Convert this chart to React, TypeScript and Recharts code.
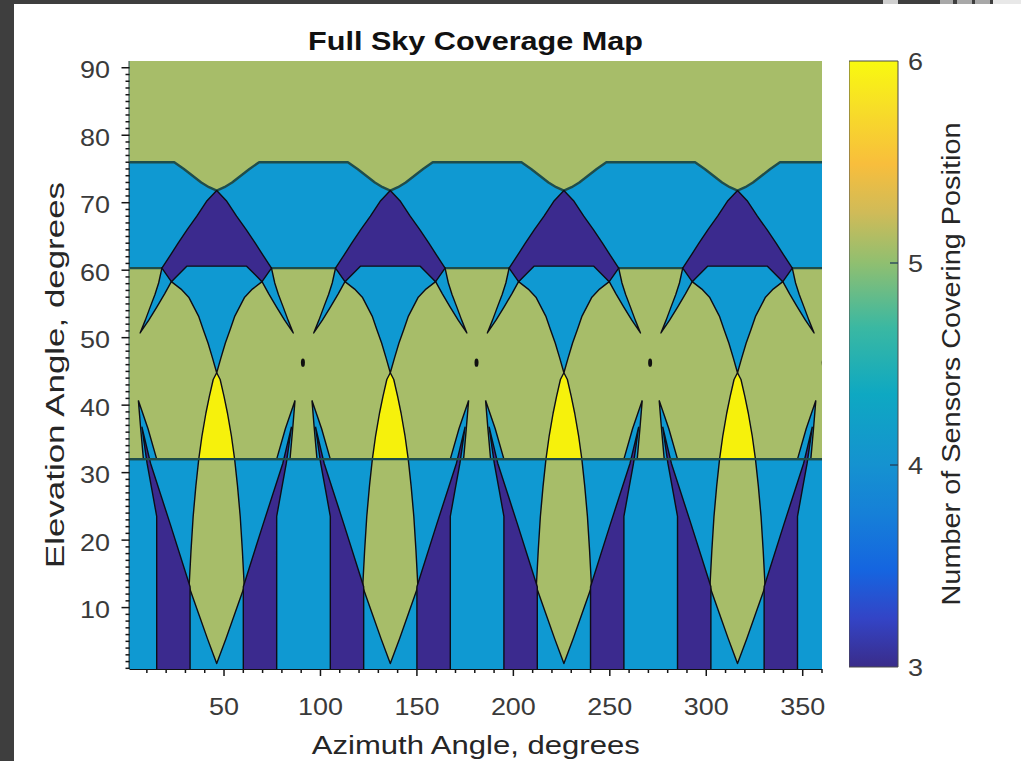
import { Bar, BarChart, ComposedChart, Scatter, XAxis, YAxis } from 'recharts'

type Pt = [number, number]

// axes
const AZ_DOMAIN: [number, number] = [1, 360]
const EL_DOMAIN: [number, number] = [0.9, 91]
const AZ_TICK_LABELS = [50, 100, 150, 200, 250, 300, 350]
const EL_TICK_LABELS = [10, 20, 30, 40, 50, 60, 70, 80, 90]
const AZ_MINOR_TICKS = Array.from({ length: 36 }, (_, i) => (i + 1) * 10)
const EL_MINOR_TICKS = Array.from({ length: 90 }, (_, i) => i + 1)

// coverage pattern repeats every 90 deg of azimuth, centred on these
const PATTERN_CENTERS = [46.2, 136.2, 226.2, 316.2]
const GAP_DOTS: Pt[] = [[90.9, 46.3], [180.9, 46.3], [270.9, 46.3], [360.9, 46.3]]

// band edges (elevation, deg)
const LOW_BAND_TOP = 32
const MID_BAND_TOP = 60.3
const TOP_BAND_EDGE = 76

const TOP_DIP: Pt[] = [[-22, 76], [-17, 75], [-12.5, 74], [-8, 73], [-4, 72.3], [0, 71.8], [4, 72.3], [8, 73], [12.5, 74], [17, 75], [22, 76]]
const ARCH_V: Pt[] = [[-23.5, 58.3], [-18.5, 57.2], [-14.5, 56], [-9.4, 53.2], [-7, 51.2], [-4.5, 49.2], [-2.2, 47], [0, 44.8], [2.2, 47], [4.5, 49.2], [7, 51.2], [9.4, 53.2], [14.5, 56], [18.5, 57.2], [23.5, 58.3], [15.5, 61], [-15.5, 61], [-23.5, 58.3]]
const ARCH: Pt[] = [[0, 71.8], [5, 70.3], [10.3, 68], [15.3, 66], [20, 64], [24.5, 62], [28.4, 60.3], [23.5, 58.3], [15.5, 60.6], [-15.5, 60.6], [-23.5, 58.3], [-28.4, 60.3], [-24.5, 62], [-20, 64], [-15.3, 66], [-10.3, 68], [-5, 70.3], [0, 71.8]]
const HORN_MID_L: Pt[] = [[-23.5, 58.3], [-27, 56.5], [-30.9, 54.6], [-35.2, 52.6], [-39.7, 50.7], [-37, 52.6], [-34.4, 54.6], [-32, 56.4], [-30.1, 58.1], [-28.4, 60.3], [-25, 61], [-23.5, 58.3]]
const HORN_MID_R: Pt[] = [[23.5, 58.3], [27, 56.5], [30.9, 54.6], [35.2, 52.6], [39.7, 50.7], [37, 52.6], [34.4, 54.6], [32, 56.4], [30.1, 58.1], [28.4, 60.3], [25, 61], [23.5, 58.3]]
const YELLOW_LENS: Pt[] = [[0, 44.8], [1.8, 43.8], [3.8, 41.3], [5.6, 38.8], [7.6, 35.5], [9.3, 32], [-9.3, 32], [-7.6, 35.5], [-5.6, 38.8], [-3.8, 41.3], [-1.8, 43.8], [0, 44.8]]
const GREEN_LENS: Pt[] = [[-9.3, 32], [-10.8, 28], [-12.2, 23.5], [-13.3, 18.5], [-14.3, 13.1], [-9.5, 9.2], [-4.8, 5.4], [0, 1.7], [4.8, 5.4], [9.5, 9.2], [14.3, 13.1], [13.3, 18.5], [12.2, 23.5], [10.8, 28], [9.3, 32]]
const HORN_LOW_L: Pt[] = [[-40.6, 40.7], [-39.4, 36.5], [-38, 32], [-31.1, 32], [-35.6, 36.5], [-40.6, 40.7]]
const HORN_LOW_R: Pt[] = [[40.6, 40.7], [39.4, 36.5], [38, 32], [31.1, 32], [35.6, 36.5], [40.6, 40.7]]
const STRIPE_L: Pt[] = [[-38.8, 36.8], [-36.1, 31.4], [-33.6, 27.5], [-31.1, 23.5], [-31.1, -3], [-13.8, -3], [-13.8, 13.1], [-24, 22.3], [-34.3, 31.4], [-38.8, 36.8]]
const STRIPE_R: Pt[] = [[38.8, 36.8], [36.1, 31.4], [33.6, 27.5], [31.1, 23.5], [31.1, -3], [13.8, -3], [13.8, 13.1], [24, 22.3], [34.3, 31.4], [38.8, 36.8]]

// number of sensors covering each shape
const PERIOD_SHAPES: { pts: Pt[]; level: number }[] = [
  { pts: ARCH_V, level: 4 },
  { pts: HORN_MID_L, level: 4 },
  { pts: HORN_MID_R, level: 4 },
  { pts: ARCH, level: 3 },
  { pts: YELLOW_LENS, level: 6 },
  { pts: GREEN_LENS, level: 5 },
  { pts: HORN_LOW_L, level: 4 },
  { pts: HORN_LOW_R, level: 4 },
  { pts: STRIPE_L, level: 3 },
  { pts: STRIPE_R, level: 3 },
]

const COLORBAR_DATA = [{ name: 'coverage', range: [3, 6] }]
const COLORBAR_TICKS = [3, 4, 5, 6]

const LEVEL_COLORS: Record<number, string> = { 3: '#3b2a8e', 4: '#0f99d2', 5: '#a7bd69', 6: '#f6f10c' }
const EDGE = '#0d0d16'
const BAND_EDGE = '#1f4d4b'
const FONT = '"Liberation Sans", Arial, Helvetica, sans-serif'

const noShape = () => <g />

const toXY = (pts: Pt[], c = 0) => pts.map(([x, y]) => ({ x: x + c, y }))

function poly(key: string, data: { x: number; y: number }[], fill: string, stroke: string, sw: number) {
  return (
    <Scatter
      key={key}
      data={data}
      shape={noShape}
      line={{ fill, stroke, strokeWidth: sw, strokeLinejoin: 'round' }}
      lineType="joint"
      legendType="none"
      isAnimationActive={false}
    />
  )
}

function AzTick({ x, y, payload }: any) {
  const v = payload.value
  const major = AZ_TICK_LABELS.includes(v)
  return (
    <g>
      <line x1={x} x2={x} y1={y} y2={y + (major ? 7 : 4)} stroke="#151515" strokeWidth={1.5} />
      {major && (
        <text transform={`translate(${x},${y + 46}) scale(1.1,1)`} textAnchor="middle" fontSize={24.5} fontFamily={FONT} fill="#3a3a3a">
          {v}
        </text>
      )}
    </g>
  )
}

function ElTick({ x, y, payload }: any) {
  const v = payload.value
  const major = EL_TICK_LABELS.includes(v)
  return (
    <g>
      <line x1={x - (major ? 8 : 4)} x2={x} y1={y} y2={y} stroke="#151515" strokeWidth={1.5} />
      {major && (
        <text transform={`translate(${x - 19.5},${y + 10.5}) scale(1.1,1)`} textAnchor="end" fontSize={24.5} fontFamily={FONT} fill="#3a3a3a">
          {v}
        </text>
      )}
    </g>
  )
}

function CbTick({ x, y, payload }: any) {
  const v = payload.value
  const inner = v !== COLORBAR_TICKS[0] && v !== COLORBAR_TICKS[COLORBAR_TICKS.length - 1]
  return (
    <g>
      {inner && <line x1={x - 8} x2={x} y1={y} y2={y} stroke="#24405a" strokeWidth={1.3} />}
      <text transform={`translate(${x + 10},${y + 9.3}) scale(1.1,1)`} fontSize={24.5} fontFamily={FONT} fill="#3a3a3a">
        {v}
      </text>
    </g>
  )
}

const AzLabel = ({ viewBox }: any) => (
  <text x={viewBox.x + viewBox.width / 2} y={viewBox.y + 85} textAnchor="middle" fontSize={25} fontFamily={FONT} fill="#262626" textLength={328} lengthAdjust="spacingAndGlyphs">
    Azimuth Angle, degrees
  </text>
)

const ElLabel = ({ viewBox }: any) => (
  <text transform={`translate(${viewBox.x - 5.5},${viewBox.y + viewBox.height / 2 + 10}) rotate(-90)`} textAnchor="middle" fontSize={25} fontFamily={FONT} fill="#262626" textLength={386} lengthAdjust="spacingAndGlyphs">
    Elevation Angle, degrees
  </text>
)

const CbLabel = ({ viewBox }: any) => (
  <text transform={`translate(${viewBox.x + 62},${viewBox.y + viewBox.height / 2}) rotate(-90)`} textAnchor="middle" fontSize={25} fontFamily={FONT} fill="#262626" textLength={483} lengthAdjust="spacingAndGlyphs">
    Number of Sensors Covering Position
  </text>
)

const GapDot = ({ cx, cy }: any) => <ellipse cx={cx} cy={cy} rx={2} ry={4.2} fill="#111" />

export default function App() {
  const topGreen = toXY([
    [-10, TOP_BAND_EDGE],
    ...PATTERN_CENTERS.flatMap((c) => TOP_DIP.map(([d, e]) => [d + c, e] as Pt)),
    [370, TOP_BAND_EDGE],
    [370, 96],
    [-10, 96],
    [-10, TOP_BAND_EDGE],
  ])
  const background = toXY([[-10, -5], [370, -5], [370, 96], [-10, 96]])
  const midBand = toXY([[-10, LOW_BAND_TOP], [370, LOW_BAND_TOP], [370, MID_BAND_TOP], [-10, MID_BAND_TOP], [-10, LOW_BAND_TOP]])
  const lowLine = toXY([[-10, LOW_BAND_TOP], [370, LOW_BAND_TOP]])

  return (
    <div style={{ position: 'absolute', left: 0, top: 0, width: 1021, height: 761, background: '#3e3e3e', overflow: 'hidden' }}>
      <div style={{ position: 'absolute', left: 883, top: 0, width: 15, height: 4, background: '#cfcfcf' }} />
      <div style={{ position: 'absolute', left: 940, top: 0, width: 13, height: 4, background: '#a8a8a8' }} />
      <div style={{ position: 'absolute', left: 957, top: 0, width: 15, height: 4, background: '#a8a8a8' }} />
      <div style={{ position: 'absolute', left: 975, top: 0, width: 15, height: 4, background: '#a8a8a8' }} />
      <div style={{ position: 'absolute', left: 993, top: 0, width: 28, height: 4, background: '#e8e8e8' }} />
      <div style={{ position: 'absolute', left: 14, top: 4, width: 1007, height: 757, background: '#fff' }} />

      <svg style={{ position: 'absolute', left: 0, top: 0 }} width={1021} height={60}>
        <text x={475.5} y={50} textAnchor="middle" fontWeight="bold" fontSize={26} fontFamily={FONT} fill="#111" textLength={335} lengthAdjust="spacingAndGlyphs">
          Full Sky Coverage Map
        </text>
      </svg>

      <div style={{ position: 'absolute', left: 0, top: 0 }}>
        <ComposedChart width={1021} height={761} margin={{ top: 61, right: 199, bottom: 62, left: 69.5 }}>
          <XAxis
            type="number"
            dataKey="x"
            domain={AZ_DOMAIN}
            allowDataOverflow
            ticks={AZ_MINOR_TICKS}
            interval={0}
            tick={AzTick}
            tickLine={false}
            tickSize={0}
            tickMargin={0}
            height={30}
            axisLine={{ stroke: '#111', strokeWidth: 1.8 }}
            label={AzLabel}
          />
          <YAxis
            type="number"
            dataKey="y"
            domain={EL_DOMAIN}
            allowDataOverflow
            ticks={EL_MINOR_TICKS}
            interval={0}
            tick={ElTick}
            tickLine={false}
            tickSize={0}
            tickMargin={0}
            width={60}
            axisLine={{ stroke: '#111', strokeWidth: 1.8 }}
            label={ElLabel}
          />
          {poly('bg', background, LEVEL_COLORS[4], 'none', 0)}
          {poly('top', topGreen, LEVEL_COLORS[5], BAND_EDGE, 2.4)}
          {poly('mid', midBand, LEVEL_COLORS[5], BAND_EDGE, 2.4)}
          {PATTERN_CENTERS.flatMap((c, ci) =>
            PERIOD_SHAPES.map((s, si) => poly(`p${ci}-${si}`, toXY(s.pts, c), LEVEL_COLORS[s.level], EDGE, 1.4)),
          )}
          {poly('low-line', lowLine, 'none', BAND_EDGE, 2.4)}
          <Scatter data={toXY(GAP_DOTS)} shape={GapDot} legendType="none" isAnimationActive={false} />
        </ComposedChart>
      </div>

      <div style={{ position: 'absolute', left: 849, top: 0 }}>
        <BarChart width={172} height={761} data={COLORBAR_DATA} margin={{ top: 61, right: 0, bottom: 94, left: 0 }} barCategoryGap={0}>
          <defs>
            <linearGradient id="parula" x1="0" y1="1" x2="0" y2="0">
              <stop offset="0" stopColor="#3a2c8a" />
              <stop offset="0.08" stopColor="#3344c6" />
              <stop offset="0.16" stopColor="#1565e0" />
              <stop offset="0.25" stopColor="#167fd8" />
              <stop offset="0.333" stopColor="#1592d0" />
              <stop offset="0.45" stopColor="#0ea8c2" />
              <stop offset="0.56" stopColor="#3ab8a2" />
              <stop offset="0.667" stopColor="#90bf70" />
              <stop offset="0.75" stopColor="#d0bb58" />
              <stop offset="0.83" stopColor="#f8be3c" />
              <stop offset="0.92" stopColor="#f7dd28" />
              <stop offset="1" stopColor="#f9f90f" />
            </linearGradient>
          </defs>
          <XAxis dataKey="name" hide />
          <YAxis
            orientation="right"
            type="number"
            domain={[3, 6]}
            ticks={COLORBAR_TICKS}
            interval={0}
            width={123}
            tick={CbTick}
            tickLine={false}
            tickSize={0}
            tickMargin={0}
            axisLine={false}
            label={CbLabel}
          />
          <Bar dataKey="range" fill="url(#parula)" stroke="#4a4a4a" strokeWidth={1} isAnimationActive={false} />
        </BarChart>
      </div>
    </div>
  )
}
